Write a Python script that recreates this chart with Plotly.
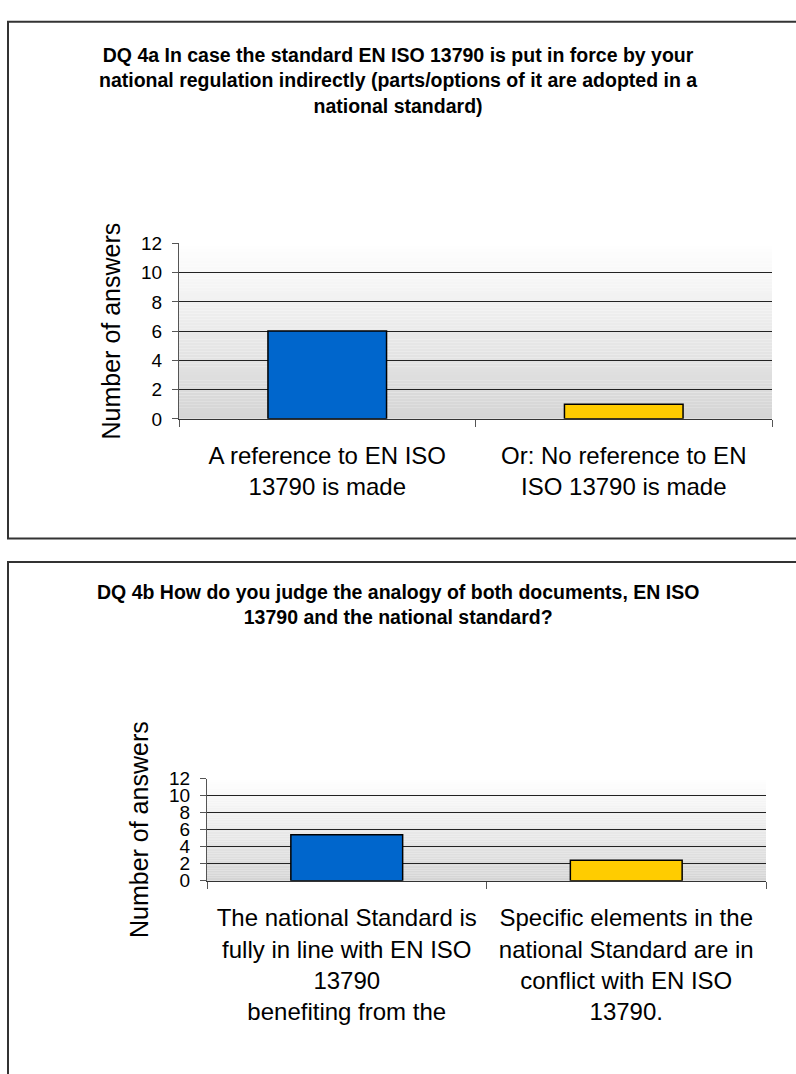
import plotly.graph_objects as go

W, H = 796, 1074

# ---- data -------------------------------------------------------------
title_4a = ("DQ 4a In case the standard EN ISO 13790 is put in force by your<br>"
            "national regulation indirectly (parts/options of it are adopted in a<br>"
            "national standard)")
cats_4a = ["A reference to EN ISO<br>13790 is made",
           "Or: No reference to EN<br>ISO 13790 is made"]
vals_4a = [6, 1]

title_4b = ("DQ 4b How do you judge the analogy of both documents, EN ISO<br>"
            "13790 and the national standard?")
cats_4b = ["The national Standard is<br>fully in line with EN ISO<br>13790<br>benefiting from the",
           "Specific elements in the<br>national Standard are in<br>conflict with EN ISO<br>13790."]
vals_4b = [5.4, 2.4]

y_ticks = [0, 2, 4, 6, 8, 10, 12]
bar_colors = ["#0066CC", "#FFCC00"]
FONT = "Liberation Sans, Arial, sans-serif"


def px_x(x):
    return x / W


def px_y(y):
    return 1 - y / H


fig = go.Figure()
fig.add_trace(go.Bar(x=cats_4a, y=vals_4a, width=0.4, xaxis="x", yaxis="y",
                     marker=dict(color=bar_colors, line=dict(color="#000000", width=1.5)),
                     showlegend=False, hoverinfo="skip"))
fig.add_trace(go.Bar(x=cats_4b, y=vals_4b, width=0.4, xaxis="x2", yaxis="y2",
                     marker=dict(color=bar_colors, line=dict(color="#000000", width=1.5)),
                     showlegend=False, hoverinfo="skip"))

xaxis_common = dict(showline=True, linecolor="#333333", linewidth=1,
                    ticks="outside", ticklen=7, tickcolor="#555555", tickwidth=1,
                    tickson="boundaries", showgrid=False,
                    tickfont=dict(family=FONT, size=24, color="#000000"),
                    fixedrange=True)
yaxis_common = dict(range=[0, 12], tickvals=y_ticks, showline=True,
                    linecolor="#555555", linewidth=1, ticks="outside", ticklen=6,
                    tickcolor="#555555", showgrid=True, gridcolor="#222222",
                    gridwidth=1, zeroline=False, ticklabelstandoff=6,
                    tickfont=dict(family=FONT, size=19, color="#000000"),
                    fixedrange=True)

fig.update_layout(
    width=W, height=H,
    margin=dict(l=0, r=0, t=0, b=0),
    paper_bgcolor="#FFFFFF", plot_bgcolor="rgba(0,0,0,0)",
    bargap=0.6,
    xaxis=dict(domain=[px_x(179), px_x(772)], anchor="y", ticklabelstandoff=15,
               **xaxis_common),
    yaxis=dict(domain=[px_y(417), px_y(238)], anchor="x",
               title=dict(text="Number of answers", standoff=13,
                          font=dict(family=FONT, size=25, color="#000000")),
               **yaxis_common),
    xaxis2=dict(domain=[px_x(207), px_x(766)], anchor="y2", ticklabelstandoff=16,
                **xaxis_common),
    yaxis2=dict(domain=[px_y(888), px_y(784)], anchor="x2",
                title=dict(text="Number of answers", standoff=13,
                           font=dict(family=FONT, size=25, color="#000000")),
                **yaxis_common),
)

# Vertical grey-to-white gradient behind each plot area
n_strips = 60
for xa, ya in (("x", "y"), ("x2", "y2")):
    for i in range(n_strips):
        t = (i + 0.5) / n_strips
        c = int(round(212 + (255 - 212) * t))
        fig.add_shape(type="rect", xref=f"{xa} domain", yref=f"{ya} domain",
                      x0=0, x1=1, y0=i / n_strips, y1=(i + 1) / n_strips,
                      fillcolor=f"rgb({c},{c},{c})", line=dict(width=0),
                      layer="below")

# Panel frames
fig.add_shape(type="rect", xref="paper", yref="paper",
              x0=px_x(8), x1=px_x(806), y0=px_y(539), y1=px_y(12),
              line=dict(color="#333333", width=2), fillcolor="rgba(0,0,0,0)")
fig.add_shape(type="rect", xref="paper", yref="paper",
              x0=px_x(8), x1=px_x(806), y0=px_y(1090), y1=px_y(563),
              line=dict(color="#333333", width=2), fillcolor="rgba(0,0,0,0)")

# Chart titles
fig.add_annotation(text=title_4a, xref="paper", yref="paper",
                   x=px_x(398), y=px_y(33), xanchor="center", yanchor="top",
                   showarrow=False, align="center",
                   font=dict(family=FONT, size=19.5, color="#000000", weight="bold"))
fig.add_annotation(text=title_4b, xref="paper", yref="paper",
                   x=px_x(398), y=px_y(580), xanchor="center", yanchor="top",
                   showarrow=False, align="center",
                   font=dict(family=FONT, size=19.5, color="#000000", weight="bold"))

fig.write_html("out.html")
